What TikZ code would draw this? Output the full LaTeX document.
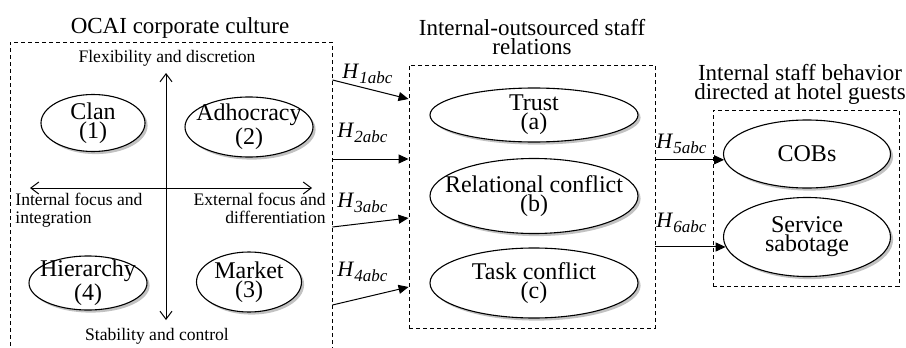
\documentclass[tikz,border=0pt]{standalone}
\usepackage{fontspec}
\setmainfont{Liberation Serif}
\usetikzlibrary{shapes.geometric, arrows.meta, positioning, shadows}

\newcommand{\hyplab}[1]{\textit{H}\raisebox{-2.5pt}{\fontsize{8.5}{8.5}\selectfont\textit{#1abc}}}

\begin{document}
\begin{tikzpicture}[x=0.5pt, y=-0.5pt,
    every node/.style={inner sep=0pt},
    dashbox/.style={draw, dash pattern=on 2pt off 1.5pt, line width=0.45pt},
    oval/.style={ellipse, draw, fill=white, line width=0.55pt, align=center,
      inner xsep=-20pt, inner ysep=-4pt, font=\fontsize{12}{9.6}\selectfont,
      drop shadow={shadow xshift=1.3pt, shadow yshift=-1.3pt, fill=black!40, opacity=0.6}},
    axislab/.style={font=\fontsize{8.8}{9}\selectfont},
    boxtitle/.style={font=\fontsize{11.5}{9.6}\selectfont, align=center},
    hyp/.style={-{Triangle[length=5pt, width=4.5pt]}, line width=0.5pt},
    hyplabel/.style={font=\fontsize{11}{11}\selectfont},
    quadaxis/.style={{Straight Barb[length=4pt, width=6pt]}-{Straight Barb[length=4pt, width=6pt]}, line width=0.5pt}]

    \useasboundingbox (0,0) rectangle (906,348);

    \node[dashbox, minimum width=161pt, minimum height=158pt] (leftbox) at (171,200) {};
    \node[dashbox, minimum width=123pt, minimum height=131.5pt] (midbox) at (532,196.5) {};
    \node[dashbox, minimum width=93pt, minimum height=88pt] (rightbox) at (806,198) {};

    \node[boxtitle, anchor=north] (culttitle) at (180,17) {OCAI corporate culture};
    \node[boxtitle, anchor=north] (reltitle) at (532,19) {Internal-outsourced staff\\relations};
    \node[boxtitle, anchor=north] (behtitle) at (800,64) {Internal staff behavior\\directed at hotel guests};

    \coordinate (ntop) at (166,73);
    \coordinate (sbot) at (166,320);
    \coordinate (wend) at (30,188);
    \coordinate (eend) at (312,188);
    \draw[quadaxis] (ntop) -- (sbot);
    \draw[quadaxis] (wend) -- (eend);

    \node[axislab, anchor=base] (flex) at (167,62) {Flexibility and discretion};
    \node[axislab, anchor=base] (stab) at (157,340) {Stability and control};
    \node[axislab, align=left, anchor=north west] (intfocus) at (15,193) {Internal focus and\\integration};
    \node[axislab, align=right, anchor=north east] (extfocus) at (326,193) {External focus and\\differentiation};

    \node[oval, minimum width=52pt, minimum height=28.5pt] (clan) at (93,123) {Clan\\(1)};
    \node[oval, minimum width=64pt, minimum height=30pt] (adhoc) at (249,127) {Adhocracy\\(2)};
    \node[oval, minimum width=52.5pt, minimum height=30pt] (market) at (249,282) {Market\\(3)};
    \node[oval, minimum width=59pt, minimum height=27pt] (hier) at (88,283) {Hierarchy\\(4)};

    \node[oval, minimum width=104pt, minimum height=27pt] (trust) at (534,115) {Trust\\(a)};
    \node[oval, minimum width=104pt, minimum height=37.5pt] (relconf) at (534,196) {Relational conflict\\(b)};
    \node[oval, minimum width=104pt, minimum height=35pt] (taskconf) at (534,283) {Task conflict\\(c)};

    \node[oval, minimum width=83.5pt, minimum height=34pt] (cobs) at (807,154) {COBs};
    \node[oval, minimum width=83.5pt, minimum height=39.5pt] (sabot) at (807,237) {Service\\sabotage};

    \draw[hyp] (leftbox.east |- 0,80) -- (midbox.west |- 0,99);
    \draw[hyp] (leftbox.east |- 0,159) -- (midbox.west |- 0,159);
    \draw[hyp] (leftbox.east |- 0,227) -- (midbox.west |- 0,218);
    \draw[hyp] (leftbox.east |- 0,305) -- (midbox.west |- 0,287);
    \draw[hyp] (midbox.east |- cobs.184) -- (cobs.184);
    \draw[hyp] (midbox.east |- sabot.187) -- (sabot.187);

    \node[hyplabel, anchor=base west] (h1) at (342,78) {\hyplab{1}};
    \node[hyplabel, anchor=base west] (h2) at (337,137) {\hyplab{2}};
    \node[hyplabel, anchor=base west] (h3) at (337,207) {\hyplab{3}};
    \node[hyplabel, anchor=base west] (h4) at (337,276) {\hyplab{4}};
    \node[hyplabel, anchor=base west] (h5) at (656,148) {\hyplab{5}};
    \node[hyplabel, anchor=base west] (h6) at (656,227) {\hyplab{6}};
\end{tikzpicture}
\end{document}
